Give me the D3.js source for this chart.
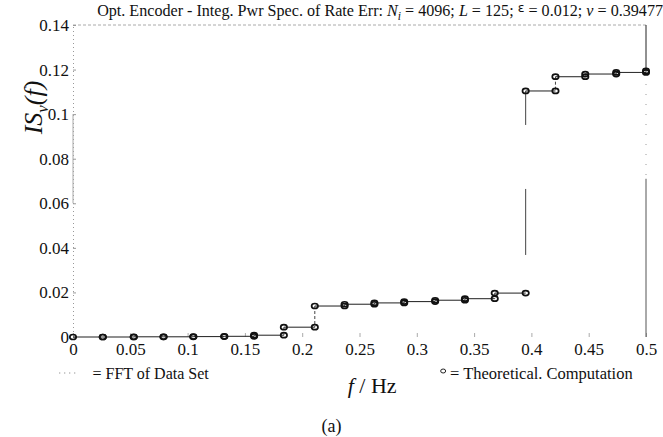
<!DOCTYPE html>
<html lang="en">
<head>
  <meta charset="utf-8">
  <title>Integ. Pwr Spec. of Rate Err</title>
  <style>
    body { margin: 0; background: #fff; }
    svg text { font-family: "Liberation Serif", "Times New Roman", serif; fill: #111; }
    svg text .eps { font-family: "DejaVu Sans", sans-serif; }
  </style>
</head>
<body>
<div id="chart"></div>

<script src="https://cdn.jsdelivr.net/npm/d3@7/dist/d3.min.js"></script>
<script>
    ////////////////////////////////////////////////// DATA
    // frequency of every step (Hz)
    var freqs = [0, 0.026, 0.053, 0.079, 0.105, 0.132, 0.158, 0.184, 0.211, 0.237,
                 0.263, 0.289, 0.316, 0.342, 0.368, 0.395, 0.421, 0.447, 0.474, 0.5];
    // IS_v(f) level held after each step
    var levels = [0, 0, 0.0001, 0.0001, 0.0002, 0.0003, 0.0008, 0.0044, 0.0139, 0.0147,
                  0.0153, 0.0159, 0.0165, 0.0172, 0.0197, 0.1104, 0.1168, 0.118, 0.1187, 0.1194];
    var xTicks = [0, 0.05, 0.1, 0.15, 0.2, 0.25, 0.3, 0.35, 0.4, 0.45, 0.5];
    var yTicks = [0, 0.02, 0.04, 0.06, 0.08, 0.1, 0.12, 0.14];

    ////////////////////////////////////////////////// SETUP
    var width = 663, height = 437;
    var margin = {left: 73, right: 17, top: 25, bottom: 100};
    var serif = "Liberation Serif, Times New Roman, serif";

    var svg = d3.select("#chart").append("svg")
        .attr("width", width)
        .attr("height", height);

    var x = d3.scaleLinear().domain([0, 0.5]).range([margin.left, width - margin.right]);
    var y = d3.scaleLinear().domain([0, 0.14]).range([height - margin.bottom, margin.top]);

    // frame: faint, broken like the scanned original
    svg.append("line")
        .attr("x1", x(0)).attr("x2", x(0.5))
        .attr("y1", y(0.14)).attr("y2", y(0.14))
        .attr("stroke", "#aaa").attr("stroke-dasharray", "3,2");

    var yAxis = svg.append("g")
        .attr("transform", `translate(${x(0)},0)`)
        .call(d3.axisLeft(y).tickValues(yTicks).tickSize(-3).tickPadding(4)
              .tickFormat(d => d === 0 ? "0" : +d.toFixed(2)));
    yAxis.select(".domain").attr("stroke", "#999").attr("stroke-dasharray", "1,3");
    yAxis.selectAll(".tick line").attr("stroke", "#999");
    yAxis.selectAll("text").attr("font-size", 17).style("font-family", serif);
    svg.append("line")
        .attr("x1", x(0)).attr("x2", x(0))
        .attr("y1", y(0.1)).attr("y2", y(0.06))
        .attr("stroke", "#aaa");

    var xAxis = svg.append("g")
        .attr("transform", `translate(0,${y(0)})`)
        .call(d3.axisBottom(x).tickValues(xTicks).tickSize(-4).tickPadding(6)
              .tickFormat(d => d === 0 ? "0" : +d.toFixed(2)));
    xAxis.select(".domain").remove();
    xAxis.selectAll(".tick line").attr("stroke", "#aaa");
    xAxis.selectAll("text").attr("font-size", 17).style("font-family", serif);

    // right edge
    svg.append("line")
        .attr("x1", x(0.5)).attr("x2", x(0.5))
        .attr("y1", y(0.14)).attr("y2", y(levels[levels.length - 1]))
        .attr("stroke", "#222");
    svg.append("line")
        .attr("x1", x(0.5)).attr("x2", x(0.5))
        .attr("y1", y(0.118)).attr("y2", y(0.072))
        .attr("stroke", "#999").attr("stroke-dasharray", "1,9");
    svg.append("line")
        .attr("x1", x(0.5)).attr("x2", x(0.5))
        .attr("y1", y(0.071)).attr("y2", y(0))
        .attr("stroke", "#555");

    ////////////////////////////////////////////////// DATA MARKS
    // FFT of data set: vertical risers (dotted in the original)
    var risers = d3.range(1, freqs.length).map(i => ({f: freqs[i], lo: levels[i - 1], hi: levels[i]}));
    svg.append("g").selectAll("line")
        .data(risers)
        .join("line")
        .attr("x1", d => x(d.f)).attr("x2", d => x(d.f))
        .attr("y1", d => y(d.hi)).attr("y2", d => y(d.lo))
        .attr("stroke", "#444")
        .attr("stroke-dasharray", d => (y(d.lo) - y(d.hi)) > 100 ? "34,64,66,400" : "3,2");

    // horizontal treads
    var treads = d3.range(0, freqs.length - 1).map(i => ({f0: freqs[i], f1: freqs[i + 1], v: levels[i]}));
    svg.append("g").selectAll("line")
        .data(treads)
        .join("line")
        .attr("x1", d => x(d.f0)).attr("x2", d => x(d.f1))
        .attr("y1", d => y(d.v)).attr("y2", d => y(d.v))
        .attr("stroke", "#333")
        .attr("stroke-width", 1.1);

    // theoretical computation: circles at both corners of each step
    var pts = [];
    freqs.forEach((f, i) => {
        if (i > 0) pts.push({f: f, v: levels[i - 1]});
        pts.push({f: f, v: levels[i]});
    });
    svg.append("g").selectAll("ellipse")
        .data(pts)
        .join("ellipse")
        .attr("cx", d => x(d.f))
        .attr("cy", d => y(d.v))
        .attr("rx", 3.2)
        .attr("ry", 2.5)
        .attr("fill", "none")
        .attr("stroke", "#111")
        .attr("stroke-width", 1.7);

    ////////////////////////////////////////////////// TEXT
    var title = svg.append("text")
        .attr("x", 663).attr("y", 16)
        .attr("text-anchor", "end")
        .attr("font-size", 15);
    title.append("tspan").text("Opt. Encoder - Integ. Pwr Spec. of Rate Err: ");
    title.append("tspan").attr("font-style", "italic").text("N");
    title.append("tspan").attr("font-style", "italic").attr("font-size", "0.72em").attr("dy", 4).text("i");
    title.append("tspan").attr("dy", -4).text(" = 4096; ");
    title.append("tspan").attr("font-style", "italic").text("L");
    title.append("tspan").text(" = 125; ");
    title.append("tspan").attr("class", "eps").attr("font-size", "0.78em").attr("dy", -4).text("ε");
    title.append("tspan").attr("dy", 4).text(" = 0.012; ");
    title.append("tspan").attr("font-style", "italic").text("ν");
    title.append("tspan").text(" = 0.39477");
    // fit the title between x = 97 and the right edge, as in the original
    var tLen = title.node().getComputedTextLength();
    title.attr("font-size", 15 * 566 / tLen);

    var ylab = svg.append("text")
        .attr("transform", `translate(42,${y(0.103)}) rotate(-90)`)
        .attr("text-anchor", "middle")
        .attr("font-size", 26)
        .attr("font-style", "italic");
    ylab.append("tspan").text("IS");
    ylab.append("tspan").attr("font-size", 17).attr("dy", 6).text("v");
    ylab.append("tspan").attr("dy", -6).text("(f)");

    var xlab = svg.append("text")
        .attr("x", x(0.261)).attr("y", 393)
        .attr("text-anchor", "middle")
        .attr("font-size", 22);
    xlab.append("tspan").attr("font-style", "italic").text("f");
    xlab.append("tspan").text(" / Hz");

    // legend
    svg.append("line")
        .attr("x1", x(-0.012)).attr("x2", x(0.002))
        .attr("y1", 373).attr("y2", 373)
        .attr("stroke", "#777").attr("stroke-dasharray", "1,4");
    svg.append("text")
        .attr("x", x(0.017)).attr("y", 379)
        .attr("font-size", 16)
        .text("=  FFT of Data Set");

    svg.append("ellipse")
        .attr("cx", x(0.323)).attr("cy", 371)
        .attr("rx", 2.5).attr("ry", 2)
        .attr("fill", "none").attr("stroke", "#222");
    svg.append("text")
        .attr("x", x(0.329)).attr("y", 379)
        .attr("font-size", 16.5)
        .text("= Theoretical. Computation");

    svg.append("text")
        .attr("x", width / 2).attr("y", 432)
        .attr("text-anchor", "middle")
        .attr("font-size", 18)
        .text("(a)");
</script>
</body>
</html>
